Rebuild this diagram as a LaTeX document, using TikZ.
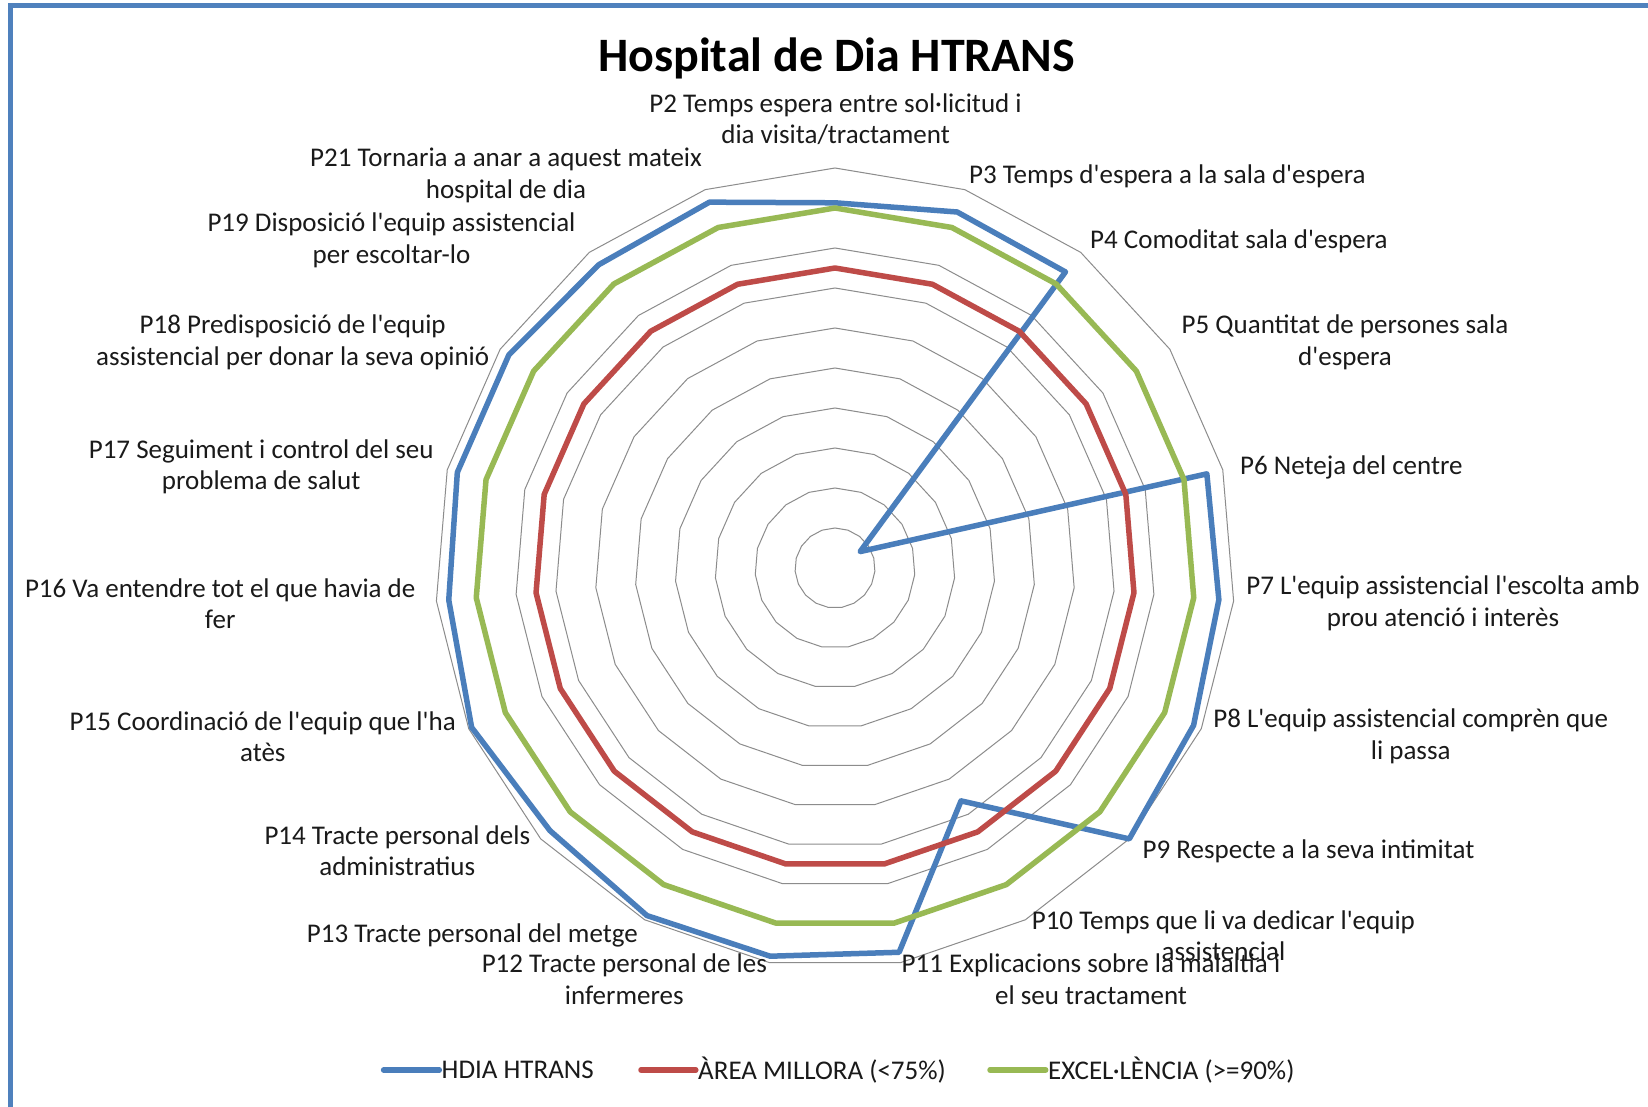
\documentclass[tikz,border=0pt]{standalone}
\usepackage{fontspec}
\setmainfont{Carlito}[Ligatures=TeXOff]
\definecolor{serBlue}{HTML}{4A7EBB}
\definecolor{serRed}{HTML}{BE4B48}
\definecolor{serGreen}{HTML}{98B954}
\definecolor{gridGray}{HTML}{8C8C8C}
\definecolor{frameBlue}{HTML}{4F81BD}
\definecolor{txt}{HTML}{1A1A1A}
\begin{document}
\begin{tikzpicture}[x=1pt,y=-1pt,
  gridline/.style={draw=gridGray,line width=1pt},
  series/.style={line width=5.5pt,line join=round,line cap=round},
  lab/.style={font=\fontsize{27}{31.5}\selectfont,text=txt,align=center,inner sep=0pt},
  leg/.style={font=\fontsize{27}{31.5}\selectfont,text=txt,anchor=west,inner sep=0pt}]
\useasboundingbox (0,0) rectangle (1648,1107);
\fill[white] (0,0) rectangle (1648,1107);
% frame
\draw[frameBlue,line width=5pt] (10.5,1107) -- (10.5,6) -- (1648,6);
\def\cx{835}
\def\cy{568}
% grid rings
\foreach \k in {1,...,10}{
  \draw[gridline] plot[samples=20,domain=0:19,variable=\t]
    ({\cx+40*\k*sin(\t*360/19)},{\cy-40*\k*cos(\t*360/19)}) -- cycle;
}
% blue series
\foreach \v [count=\i from 0] in {0.913,0.941,0.938,0.075,0.959,0.963,0.979,1.0,0.662,0.974,0.984,0.988,0.969,0.992,0.969,0.974,0.974,0.961,0.967}{
  \coordinate (b\i) at ({\cx+400*\v*sin(\i*360/19)},{\cy-400*\v*cos(\i*360/19)});
}
\draw[series,serBlue] (b0) \foreach \i in {1,...,18}{ -- (b\i) } -- cycle;
% red series 75%
\draw[series,serRed] plot[samples=20,domain=0:19,variable=\t]
    ({\cx+300*sin(\t*360/19)},{\cy-300*cos(\t*360/19)}) -- cycle;
% green series 90%
\draw[series,serGreen] plot[samples=20,domain=0:19,variable=\t]
    ({\cx+360*sin(\t*360/19)},{\cy-360*cos(\t*360/19)}) -- cycle;
% title
\node[font=\bfseries\fontsize{48}{56}\selectfont,text=black,inner sep=0pt] (title) at (836.6,58.8) {Hospital de Dia HTRANS};
% labels
\node[lab] (l2) at (835.6,119.2) {P2 Temps espera entre sol·licitud i\\dia visita/tractament};
\node[lab,anchor=west] (l3) at (969,176.5) {P3 Temps d'espera a la sala d'espera};
\node[lab,anchor=west] (l4) at (1090,241.6) {P4 Comoditat sala d'espera};
\node[lab] (l5) at (1345,342.5) {P5 Quantitat de persones sala\\d'espera};
\node[lab,anchor=west] (l6) at (1240,467.6) {P6 Neteja del centre};
\node[lab] (l7) at (1443,603.5) {P7 L'equip assistencial l'escolta amb\\prou atenció i interès};
\node[lab] (l8) at (1410.7,736.5) {P8 L'equip assistencial comprèn que\\li passa};
\node[lab,anchor=west] (l9) at (1142.5,851) {P9 Respecte a la seva intimitat};
\node[lab] (l10) at (1223.4,935.5) {P10 Temps que li va dedicar l'equip\\assistencial};
\node[lab] (l11) at (1091,979) {P11 Explicacions sobre la malaltia i\\el seu tractament};
\node[lab] (l12) at (624.3,979) {P12 Tracte personal de les\\infermeres};
\node[lab,anchor=east] (l13) at (638,935.3) {P13 Tracte personal del metge};
\node[lab] (l14) at (397.3,850.7) {P14 Tracte personal dels\\administratius};
\node[lab] (l15) at (262.8,736.5) {P15 Coordinació de l'equip que l'ha\\atès};
\node[lab] (l16) at (220.2,603.5) {P16 Va entendre tot el que havia de\\fer};
\node[lab] (l17) at (261.2,467) {P17 Seguiment i control del seu\\problema de salut};
\node[lab] (l18) at (292.7,342.5) {P18 Predisposició de l'equip\\assistencial per donar la seva opinió};
\node[lab] (l19) at (391.5,240.5) {P19 Disposició l'equip assistencial\\per escoltar-lo};
\node[lab] (l21) at (506,175.5) {P21 Tornaria a anar a aquest mateix\\hospital de dia};
% legend
\coordinate (lg1a) at (383.6,1070); \coordinate (lg1b) at (439.3,1070);
\coordinate (lg2a) at (641,1070);   \coordinate (lg2b) at (695.8,1070);
\coordinate (lg3a) at (990,1070);   \coordinate (lg3b) at (1045.7,1070);
\draw[series,serBlue] (lg1a) -- (lg1b);
\draw[series,serRed] (lg2a) -- (lg2b);
\draw[series,serGreen] (lg3a) -- (lg3b);
\node[leg] (lt1) at (441.5,1070) {HDIA HTRANS};
\node[leg] (lt2) at (698,1070) {ÀREA MILLORA (<75\%)};
\node[leg] (lt3) at (1048,1070) {EXCEL·LÈNCIA (>=90\%)};
\end{tikzpicture}
\end{document}
